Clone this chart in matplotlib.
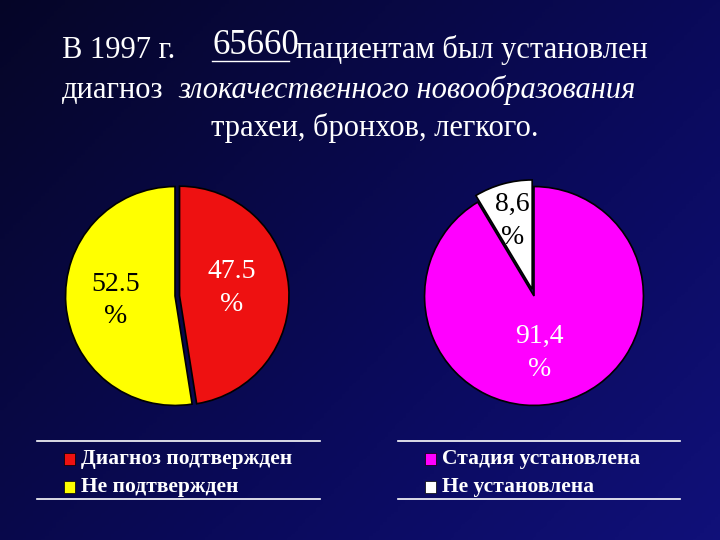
import matplotlib
matplotlib.use("Agg")
import matplotlib.pyplot as plt
import numpy as np
from matplotlib.colors import LinearSegmentedColormap

labels1 = ["Диагноз подтвержден", "Не подтвержден"]
values1 = [47.5, 52.5]
texts1 = ["47.5\n%", "52.5\n%"]
colors1 = ["#ee1111", "#ffff00"]

labels2 = ["Стадия установлена", "Не установлена"]
values2 = [91.4, 8.6]
texts2 = ["91,4\n%", "8,6\n%"]
colors2 = ["#ff00ff", "#ffffff"]

plt.rcParams['font.family'] = ['Liberation Serif', 'DejaVu Serif']
W, H = 720, 540
fig = plt.figure(figsize=(7.2, 5.4), dpi=100)
bg = fig.add_axes([0, 0, 1, 1])
bg.axis('off')
yy, xx = np.mgrid[0:1:200j, 0:1:200j]
grad = 0.25 + 0.35 * xx + 0.25 * (1 - yy)
cm = LinearSegmentedColormap.from_list('b', ['#050520', '#0a0a5a', '#14148c'])
bg.imshow(grad, cmap=cm, extent=[0, 1, 0, 1], aspect='auto', vmin=0.2, vmax=1.0, origin='lower')
bg.set_xlim(0, 1); bg.set_ylim(0, 1)

fs = 22
fig.text(62 / W, 1 - 50 / H, "В 1997 г.", color='white', fontsize=fs, va='center')
fig.text(213 / W, 1 - 46 / H, "65660", color='white', fontsize=25, va='center')
fig.lines.append(plt.Line2D([212 / W, 289 / W], [1 - 61 / H] * 2, color='white', lw=1, transform=fig.transFigure))
fig.text(296 / W, 1 - 50 / H, "пациентам был установлен", color='white', fontsize=fs, va='center')
fig.text(62 / W, 1 - 90 / H, "диагноз", color='white', fontsize=fs, va='center')
fig.text(178 / W, 1 - 90 / H, "злокачественного новообразования", color='white', fontsize=fs, va='center', style='italic')
fig.text(375 / W, 1 - 128 / H, "трахеи, бронхов, легкого.", color='white', fontsize=fs, va='center', ha='center')

def pie_axes(cx, cy, r):
    return fig.add_axes([(cx - r) / W, 1 - (cy + r) / H, 2 * r / W, 2 * r / H])

ax1 = pie_axes(175, 296, 114)
ax1.pie(values1, colors=colors1, startangle=90, counterclock=False, explode=[0.04, 0],
        wedgeprops=dict(edgecolor='black', linewidth=1.2), radius=0.96)
ax1.set_xlim(-1, 1); ax1.set_ylim(-1, 1); ax1.set_aspect('equal')
ax1.text(0.5, 0.07, texts1[0], ha='center', va='center', fontsize=20, color='white', linespacing=1.4)
ax1.text(-0.52, -0.04, texts1[1], ha='center', va='center', fontsize=20, color='black', linespacing=1.4)

ax2 = pie_axes(534, 296, 114)
ax2.pie(values2, colors=colors2, startangle=90, counterclock=False, explode=[0, 0.06],
        wedgeprops=dict(edgecolor='black', linewidth=1.2), radius=0.96)
ax2.set_xlim(-1, 1); ax2.set_ylim(-1, 1); ax2.set_aspect('equal')
ax2.text(0.05, -0.5, texts2[0], ha='center', va='center', fontsize=20, color='white', linespacing=1.4)
ax2.text(-0.19, 0.66, texts2[1], ha='center', va='center', fontsize=20, color='black', linespacing=1.4)

def legend(x0, x1, labels, colors):
    for y in (441, 499):
        fig.lines.append(plt.Line2D([x0 / W, x1 / W], [1 - y / H] * 2, color='white', lw=1.2, transform=fig.transFigure))
    for i, (lab, c) in enumerate(zip(labels, colors)):
        y = 459 + 28 * i
        fig.patches.append(plt.Rectangle(((x0 + 27) / W, 1 - (y + 6) / H), 11 / W, 12 / H,
                                         facecolor=c, edgecolor='black', lw=0.5, transform=fig.transFigure))
        fig.text((x0 + 44) / W, 1 - y / H, lab, color='white', fontsize=15.5, fontweight='bold', va='center')

legend(37, 320, labels1, colors1)
legend(398, 680, labels2, colors2)

fig.savefig("out.png", dpi=100, facecolor='#0a0a50')
